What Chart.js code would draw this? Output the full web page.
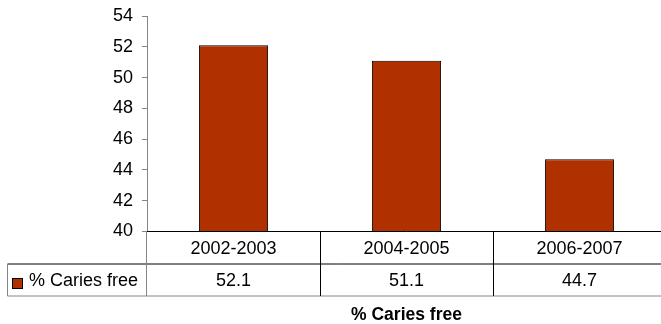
<!DOCTYPE html>
<html>
<head>
<meta charset="utf-8">
<script src="https://cdn.jsdelivr.net/npm/chart.js@4/dist/chart.umd.min.js"></script>
<style>
  html, body { margin: 0; padding: 0; background: #fff; overflow: hidden; }
  #wrap { width: 666px; height: 324px; }
  canvas { display: block; }
</style>
</head>
<body>
<div id="wrap"><canvas id="c" width="666" height="324" style="width:666px;height:324px"></canvas></div>
<script>
// Categories, series and axis labels
const categories = ['2002-2003', '2004-2005', '2006-2007'];
const seriesName = '% Caries free';
const cariesFree = [52.1, 51.1, 44.7];
const yTicks = [40, 42, 44, 46, 48, 50, 52, 54];
const chartTitle = '% Caries free';

const FONT = "'Liberation Sans', Arial, sans-serif";
const BAR_COLOR = '#B03000';
const AXIS_GREY = '#868686';

// Draws the data table under the plot (category row + value row with legend key) and the title
const dataTablePlugin = {
  id: 'dataTable',
  afterDraw(chart) {
    const { ctx, chartArea: a, scales: { x } } = chart;
    const n = categories.length;
    const colW = (a.right - a.left) / n;
    const top = a.bottom;
    const mid = top + 32.5;
    const bot = mid + 32;
    const tableLeft = 7.5;

    ctx.save();
    ctx.lineWidth = 1;

    // horizontal rules
    ctx.strokeStyle = '#000';
    ctx.beginPath();
    ctx.moveTo(a.left, top); ctx.lineTo(a.right, top);
    ctx.moveTo(tableLeft, mid); ctx.lineTo(a.right, mid);
    ctx.stroke();

    ctx.strokeStyle = AXIS_GREY;
    ctx.beginPath();
    ctx.moveTo(tableLeft, bot); ctx.lineTo(a.right, bot);
    ctx.moveTo(tableLeft, mid); ctx.lineTo(tableLeft, bot);
    ctx.moveTo(a.left - 0.5, top); ctx.lineTo(a.left - 0.5, bot);
    ctx.stroke();

    // column dividers
    ctx.strokeStyle = '#000';
    ctx.beginPath();
    for (let i = 1; i < n; i++) {
      const xx = Math.round(a.left + i * colW) + 0.5;
      ctx.moveTo(xx, top); ctx.lineTo(xx, bot);
    }
    ctx.stroke();

    // cell text
    ctx.fillStyle = '#000';
    ctx.font = `18px ${FONT}`;
    ctx.textAlign = 'center';
    ctx.textBaseline = 'middle';
    categories.forEach((c, i) => {
      const cx = x.getPixelForValue(i);
      ctx.fillText(c, cx, (top + mid) / 2 + 1);
      ctx.fillText(String(cariesFree[i]), cx, (mid + bot) / 2 + 1);
    });

    // legend key + series name
    ctx.fillStyle = BAR_COLOR;
    ctx.fillRect(12.5, 278.5, 10, 10);
    ctx.strokeStyle = '#000';
    ctx.strokeRect(12.5, 278.5, 10, 10);
    ctx.fillStyle = '#000';
    ctx.textAlign = 'left';
    ctx.fillText(seriesName, 29, (mid + bot) / 2 + 1);

    // title under the table
    ctx.font = `bold 17.5px ${FONT}`;
    ctx.textAlign = 'center';
    ctx.fillText(chartTitle, (a.left + a.right) / 2, 315);
    ctx.restore();
  }
};

new Chart(document.getElementById('c'), {
  type: 'bar',
  data: {
    labels: categories,
    datasets: [{
      label: seriesName,
      data: cariesFree,
      backgroundColor: BAR_COLOR,
      borderColor: '#000',
      borderWidth: 1,
      borderSkipped: 'bottom',
      barPercentage: 0.4,
      categoryPercentage: 1
    }]
  },
  options: {
    responsive: false,
    animation: false,
    layout: { padding: { left: 0, right: 0, top: 16, bottom: 92.5 } },
    plugins: { legend: { display: false }, tooltip: { enabled: false }, title: { display: false } },
    scales: {
      x: { display: false },
      y: {
        min: yTicks[0],
        max: yTicks[yTicks.length - 1],
        afterBuildTicks(scale) { scale.ticks = yTicks.map(v => ({ value: v })); },
        afterFit(scale) { scale.width = 147; scale.paddingTop = 0; scale.paddingBottom = 0; },
        ticks: { color: '#000', padding: 9, font: { family: FONT, size: 18 } },
        grid: { drawOnChartArea: false, tickLength: 5, color: AXIS_GREY },
        border: { color: AXIS_GREY, width: 1 }
      }
    }
  },
  plugins: [dataTablePlugin]
});
</script>
</body>
</html>
